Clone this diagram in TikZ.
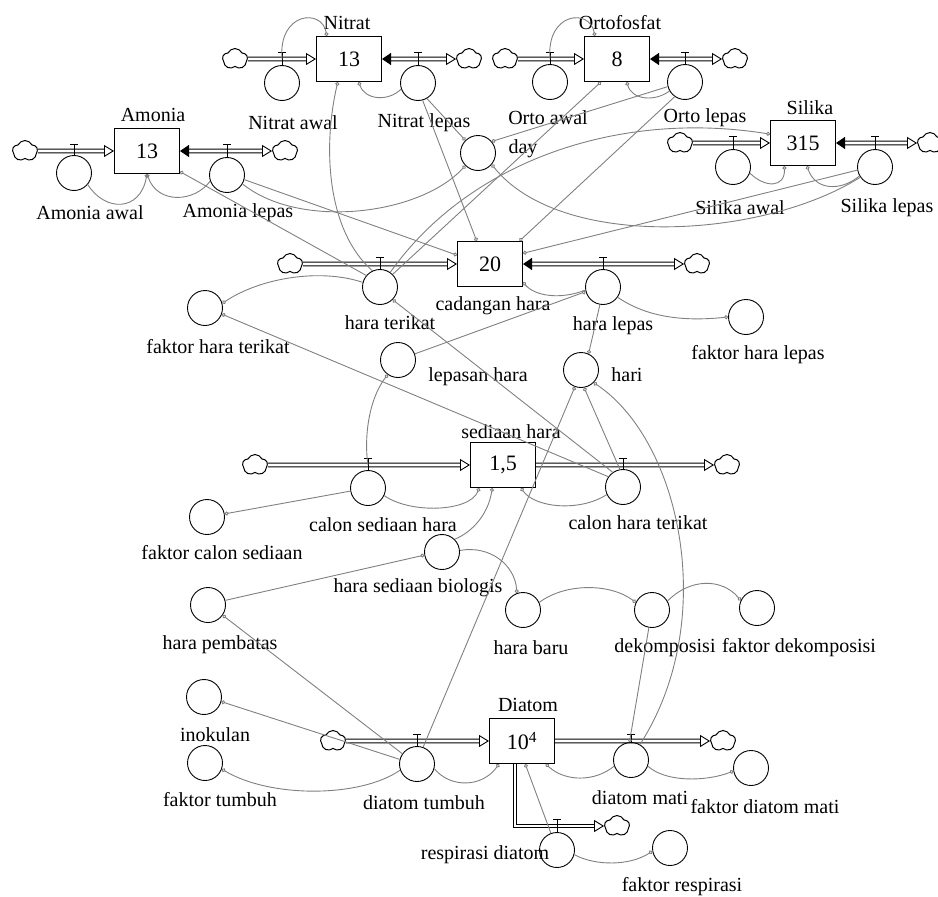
\documentclass[tikz,border=0pt]{standalone}
\usepackage{fontspec}
\setmainfont{Liberation Serif}
\usetikzlibrary{arrows.meta,shapes.symbols,calc}
\tikzstyle{stock}=[draw, rectangle, minimum width=65pt, minimum height=45pt, inner sep=0pt, line width=1pt, fill=white, font=\fontsize{22}{24}\selectfont]
\tikzstyle{aux}=[draw, circle, minimum size=35pt, inner sep=0pt, line width=0.9pt]
\tikzstyle{sink}=[draw, cloud, cloud puffs=5, cloud puff arc=130, minimum width=25pt, minimum height=21pt, inner sep=0pt, line width=1pt, fill=white]
\tikzstyle{lbl}=[inner sep=0pt, font=\fontsize{20}{22}\selectfont]
\tikzstyle{pipe}=[double=white, double distance=2.8pt, line width=0.9pt, -{Triangle[open,length=10pt,width=12pt]}]
\tikzstyle{bipipe}=[pipe, {Triangle[length=9pt,width=12pt]}-{Triangle[open,length=10pt,width=12pt]}]
\tikzstyle{link}=[draw=black!50, line width=0.9pt, {Circle[open,length=4pt,width=4pt]}-]
\tikzset{valve/.pic={\draw[line width=0.9pt] (-4,-7) -- (4,-7) (0,-7) -- (0,0);}}

\begin{document}
\begin{tikzpicture}[x=1pt,y=-1pt]
\useasboundingbox (0,0) rectangle (938,897);

% stocks
\node[stock] (amonia) at (147,151) {13};
\node[stock] (nitrat) at (349,59) {13};
\node[stock] (orto) at (617,59) {8};
\node[stock] (silika) at (803,143) {315};
\node[stock] (cadangan) at (490,264) {20};
\node[stock] (sediaan) at (503,465) {1,5};
\node[stock] (diatom) at (522,741) {10\textsuperscript{4}};

% clouds
\node[sink] (amsrc) at (25,151) {};
\node[sink] (amsink) at (285,151) {};
\node[sink] (nisrc) at (235,59) {};
\node[sink] (nisink) at (469,59) {};
\node[sink] (orsrc) at (505,59) {};
\node[sink] (orsink) at (735,59) {};
\node[sink] (sisrc) at (680,143) {};
\node[sink] (sisink) at (930,143) {};
\node[sink] (casrc) at (290,264) {};
\node[sink] (casink) at (697,264) {};
\node[sink] (sesrc) at (255,465) {};
\node[sink] (sesink) at (727,465) {};
\node[sink] (disrc) at (333,741) {};
\node[sink] (disink) at (723,741) {};
\node[sink] (resink) at (617,826) {};

% flows
\draw[pipe] (amsrc.east) -- (amonia.west);
\draw[bipipe] (amonia.east) -- (amsink.west);
\draw[pipe] (nisrc.east) -- (nitrat.west);
\draw[bipipe] (nitrat.east) -- (nisink.west);
\draw[pipe] (orsrc.east) -- (orto.west);
\draw[bipipe] (orto.east) -- (orsink.west);
\draw[pipe] (sisrc.east) -- (silika.west);
\draw[bipipe] (silika.east) -- (sisink.west);
\draw[pipe] (casrc.east) -- (cadangan.west);
\draw[bipipe] (cadangan.east) -- (casink.west);
\draw[pipe] (sesrc.east) -- (sediaan.west);
\draw[pipe] (sediaan.east) -- (sesink.west);
\draw[pipe] (disrc.east) -- (diatom.west);
\draw[pipe] (diatom.east) -- (disink.west);
\draw[pipe] ($(diatom.south)+(-7,0)$) |- (resink.west);

% valves
\coordinate (vAmIn) at (74,151);
\coordinate (vAmOut) at (227,151);
\coordinate (vNiIn) at (282,59);
\coordinate (vNiOut) at (418,59);
\coordinate (vOrIn) at (550,59);
\coordinate (vOrOut) at (685,59);
\coordinate (vSiIn) at (733,143);
\coordinate (vSiOut) at (875,143);
\coordinate (vCaIn) at (380,264);
\coordinate (vCaOut) at (603,264);
\coordinate (vSedIn) at (368,465);
\coordinate (vSedOut) at (623,465);
\coordinate (vDiIn) at (417,741);
\coordinate (vDiOut) at (631,741);
\coordinate (vResp) at (557,826);

% converters
\node[aux] (amawal) at (74,173) {};
\node[aux] (amlepas) at (227,175) {};
\node[aux] (niawal) at (282,83) {};
\node[aux] (nilepas) at (418,83) {};
\node[aux] (orawal) at (550,82) {};
\node[aux] (orlepas) at (685,82) {};
\node[aux] (siawal) at (733,167) {};
\node[aux] (silepas) at (875,167) {};
\node[aux] (day) at (478,153) {};
\node[aux] (haraterikat) at (380,287) {};
\node[aux] (haralepas) at (603,287) {};
\node[aux] (fhterikat) at (205,308) {};
\node[aux] (fhlepas) at (746,317) {};
\node[aux] (lepasan) at (398,360) {};
\node[aux] (hari) at (581,370) {};
\node[aux] (calonsed) at (368,488) {};
\node[aux] (calonhter) at (623,487) {};
\node[aux] (fcalonsed) at (207,517) {};
\node[aux] (hsbio) at (442,552) {};
\node[aux] (hpembatas) at (208,605) {};
\node[aux] (harabaru) at (523,610) {};
\node[aux] (dekomp) at (652,610) {};
\node[aux] (fdekomp) at (757,608) {};
\node[aux] (inokulan) at (204,697) {};
\node[aux] (ftumbuh) at (205,763) {};
\node[aux] (dtumbuh) at (417,764) {};
\node[aux] (dmati) at (631,760) {};
\node[aux] (fdmati) at (751,768) {};
\node[aux] (respdiatom) at (557,850) {};
\node[aux] (fresp) at (670,848) {};

\foreach \v/\c in {vAmIn/amawal, vAmOut/amlepas, vNiIn/niawal, vNiOut/nilepas,
  vOrIn/orawal, vOrOut/orlepas, vSiIn/siawal, vSiOut/silepas, vCaIn/haraterikat,
  vCaOut/haralepas, vSedIn/calonsed, vSedOut/calonhter, vDiIn/dtumbuh,
  vDiOut/dmati, vResp/respdiatom}
{
  \pic at (\v) {valve};
  \draw[line width=0.9pt] (\v) -- (\c.north);
}

% labels
\node[lbl] (tAmonia) at (153,115) {Amonia};
\node[lbl] (tNitrat) at (347,23) {Nitrat};
\node[lbl] (tOrto) at (620,23) {Ortofosfat};
\node[lbl] (tSilika) at (810,108) {Silika};
\node[lbl] (tCadangan) at (493,306) {cadangan hara};
\node[lbl] (tSediaan) at (511,432) {sediaan hara};
\node[lbl] (tDiatom) at (528,705) {Diatom};
\node[lbl] (tAmawal) at (90,213) {Amonia awal};
\node[lbl] (tAmlepas) at (238,213) {Amonia lepas};
\node[lbl] (tNiawal) at (293,123) {Nitrat awal};
\node[lbl] (tNilepas) at (424,123) {Nitrat lepas};
\node[lbl] (tOrawal) at (548,118) {Orto awal};
\node[lbl] (tOrlepas) at (705,118) {Orto lepas};
\node[lbl] (tDay) at (523,149) {day};
\node[lbl] (tSiawal) at (740,208) {Silika awal};
\node[lbl] (tSilepas) at (887,208) {Silika lepas};
\node[lbl] (tHaraterikat) at (390,323) {hara terikat};
\node[lbl] (tFhterikat) at (218,347) {faktor hara terikat};
\node[lbl] (tHaralepas) at (613,326) {hara lepas};
\node[lbl] (tFhlepas) at (758,355) {faktor hara lepas};
\node[lbl] (tLepasan) at (478,377) {lepasan hara};
\node[lbl] (tHari) at (627,375) {hari};
\node[lbl] (tCalonsed) at (383,525) {calon sediaan hara};
\node[lbl] (tCalonhter) at (638,523) {calon hara terikat};
\node[lbl] (tFcalonsed) at (222,553) {faktor calon sediaan};
\node[lbl] (tHsbio) at (418,588) {hara sediaan biologis};
\node[lbl] (tHpembatas) at (220,645) {hara pembatas};
\node[lbl] (tHarabaru) at (531,648) {hara baru};
\node[lbl] (tDekomp) at (665,648) {dekomposisi};
\node[lbl] (tFdekomp) at (799,648) {faktor dekomposisi};
\node[lbl] (tInokulan) at (215,735) {inokulan};
\node[lbl] (tFtumbuh) at (220,800) {faktor tumbuh};
\node[lbl] (tDtumbuh) at (424,803) {diatom tumbuh};
\node[lbl] (tDmati) at (640,798) {diatom mati};
\node[lbl] (tFdmati) at (765,807) {faktor diatom mati};
\node[lbl] (tRespdiatom) at (485,855) {respirasi diatom};
\node[lbl] (tFresp) at (682,887) {faktor respirasi};

% links: Amonia, Nitrat, Ortofosfat, Silika
\draw[link] (amonia.270) .. controls (140,212) and (105,212) .. (amawal.-40);
\draw[link] (amonia.270) .. controls (158,205) and (195,202) .. (amlepas.200);
\draw[link] (amonia.-32) -- (haraterikat.140);
\draw[link] (nitrat.134) .. controls (322,8) and (278,12) .. (vNiIn);
\draw[link] (nitrat.-67) .. controls (365,100) and (388,102) .. (nilepas.200);
\draw[link] (nitrat.244) .. controls (322,150) and (328,232) .. (haraterikat.115);
\draw[link] (orto.134) .. controls (590,8) and (546,12) .. (vOrIn);
\draw[link] (orto.-67) .. controls (632,100) and (655,102) .. (orlepas.210);
\draw[link] (orto.235) -- (haraterikat.45);
\draw[link] (silika.231) .. controls (785,188) and (765,188) .. (siawal.-20);
\draw[link] (silika.-80) .. controls (815,190) and (840,192) .. (silepas.210);
\draw[link] (silika.165) .. controls (620,110) and (470,160) .. (haraterikat.55);

% links: day
\draw[link] (day.135) -- (nilepas.-60);
\draw[link] (day.40) -- (orlepas.195);
\draw[link] (day.225) .. controls (420,215) and (300,230) .. (amlepas.-30);
\draw[link] (day.-40) .. controls (560,250) and (760,240) .. (silepas.215);

% links: cadangan hara
\draw[link] (cadangan.120) -- (nilepas.-75);
\draw[link] (cadangan.38) -- (orlepas.235);
\draw[link] (cadangan.165) -- (amlepas.-15);
\draw[link] (cadangan.18) -- (silepas.190);
\draw[link] (cadangan.-29) .. controls (535,296) and (560,300) .. (haralepas.190);
\draw[link] (fhterikat.15) .. controls (260,278) and (320,268) .. (haraterikat.165);
\draw[link] (fhterikat.-20) -- (calonhter.145);
\draw[link] (haraterikat.-45) -- (calonhter.125);
\draw[link] (haralepas.195) -- (lepasan.20);
\draw[link] (fhlepas.180) .. controls (680,322) and (645,316) .. (haralepas.-35);
\draw[link] (hari.65) -- (haralepas.-100);
\draw[link] (lepasan.235) .. controls (368,400) and (364,440) .. (vSedIn);

% links: hari
\draw[link] (hari.250) -- (dtumbuh.70);
\draw[link] (hari.-80) -- (calonhter.100);
\draw[link] (hari.-45) .. controls (680,440) and (720,620) .. (dmati.60);

% links: sediaan hara
\draw[link] (fcalonsed.10) -- (calonsed.190);
\draw[link] (sediaan.224) .. controls (470,512) and (410,514) .. (calonsed.-25);
\draw[link] (sediaan.245) .. controls (488,515) and (472,532) .. (hsbio.45);
\draw[link] (sediaan.-52) .. controls (535,508) and (580,512) .. (calonhter.205);
\draw[link] (hsbio.190) -- (hpembatas.15);
\draw[link] (harabaru.110) .. controls (515,565) and (490,545) .. (hsbio.5);
\draw[link] (dekomp.155) .. controls (610,583) and (565,583) .. (harabaru.25);
\draw[link] (fdekomp.155) .. controls (722,578) and (690,578) .. (dekomp.30);
\draw[link] (dmati.95) -- (dekomp.-100);

% links: Diatom
\draw[link] (hpembatas.-35) -- (dtumbuh.145);
\draw[link] (inokulan.-15) -- (dtumbuh.165);
\draw[link] (ftumbuh.-20) .. controls (270,798) and (360,798) .. (dtumbuh.200);
\draw[link] (diatom.225) .. controls (482,788) and (450,788) .. (dtumbuh.-15);
\draw[link] (diatom.-44) .. controls (565,782) and (595,782) .. (dmati.200);
\draw[link] (fdmati.190) .. controls (705,782) and (665,782) .. (dmati.-20);
\draw[link] (diatom.-82) -- (respdiatom.110);
\draw[link] (fresp.190) .. controls (630,866) and (595,866) .. (respdiatom.-15);

\end{tikzpicture}
\end{document}
